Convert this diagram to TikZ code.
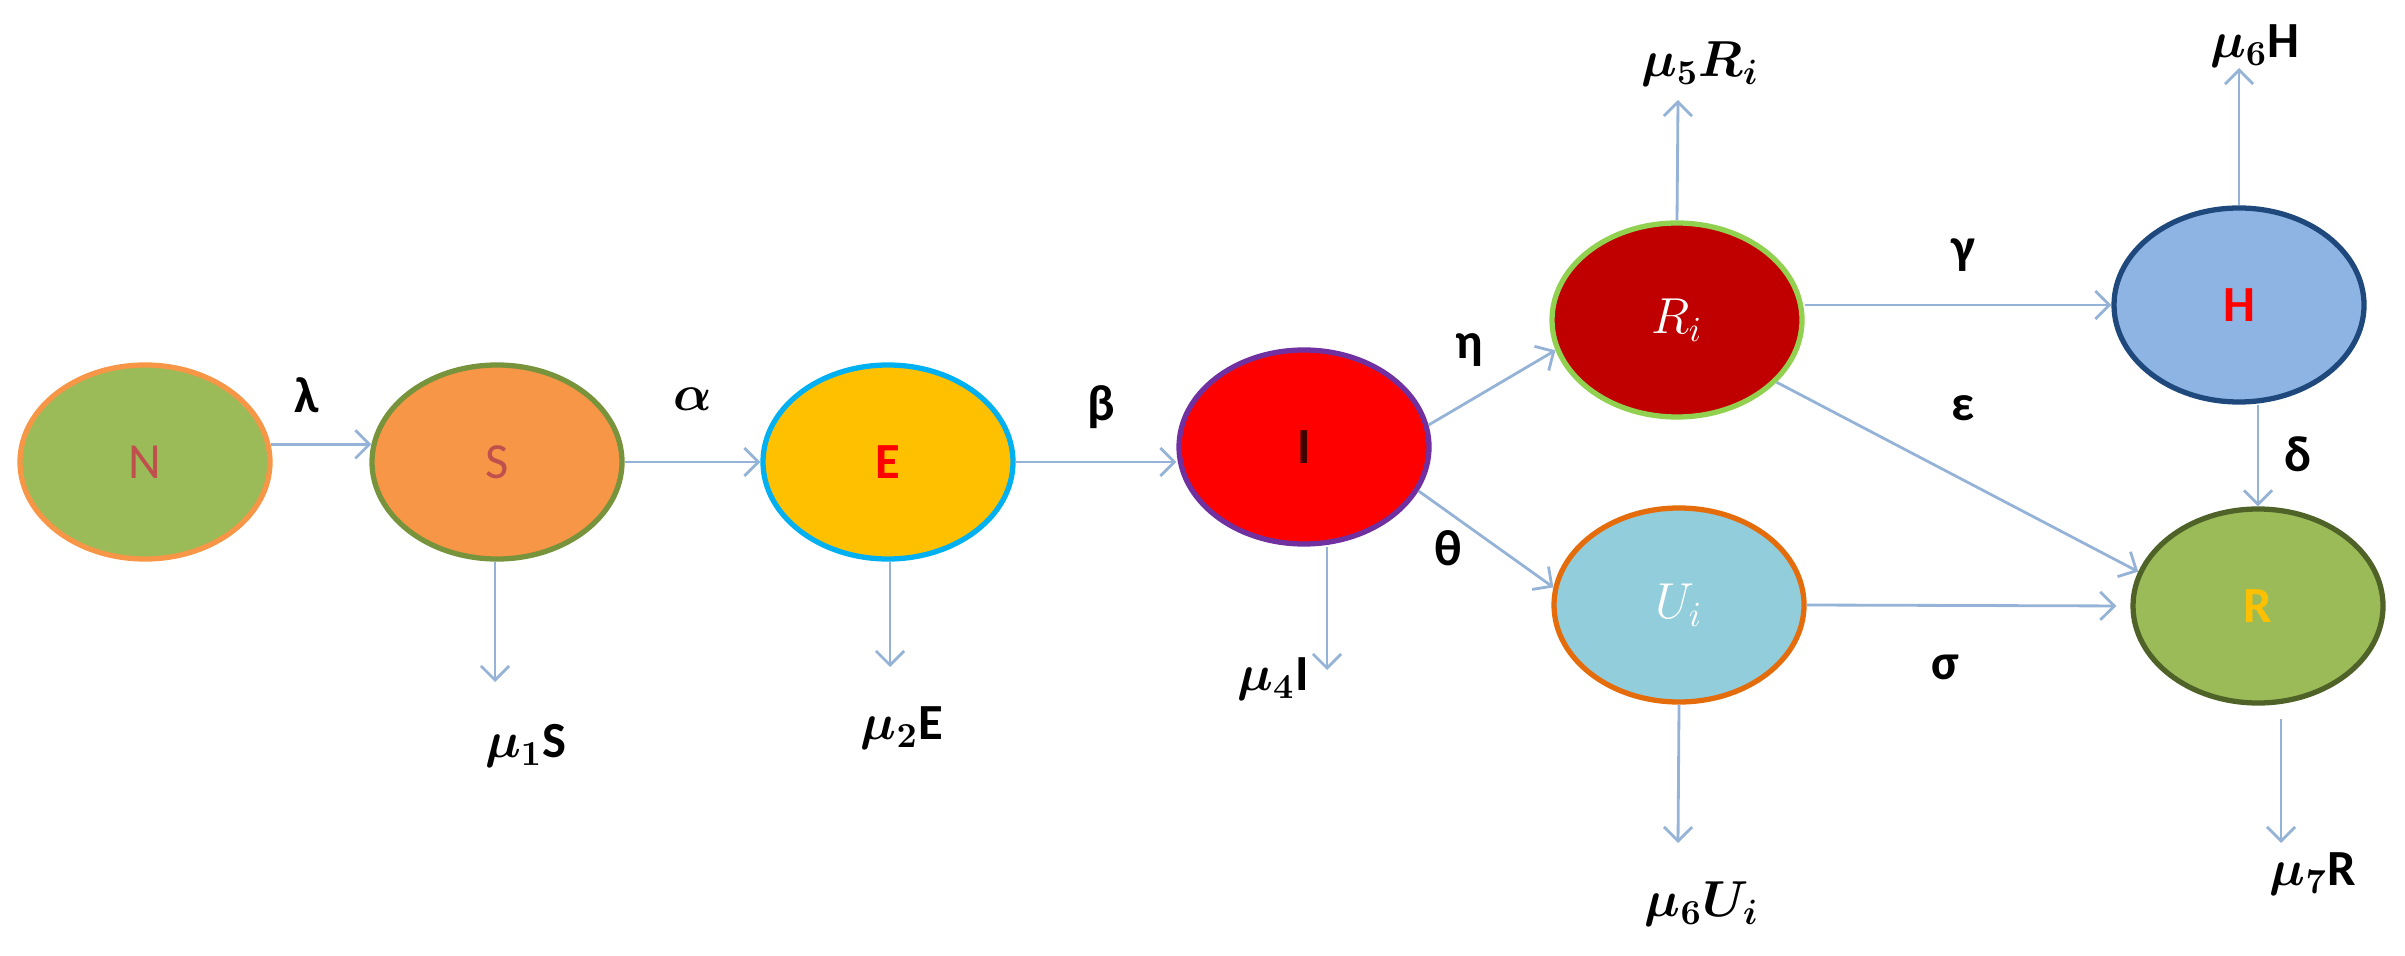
\documentclass[tikz,border=0pt]{standalone}
\usepackage{amsmath,amssymb}
\usepackage{fontspec}
\setmainfont{Carlito}
\usetikzlibrary{shapes.geometric}
\usetikzlibrary{arrows.meta}

\definecolor{flowblue}{HTML}{95B3D7}
\definecolor{ngreen}{HTML}{9BBB59}
\definecolor{sorange}{HTML}{F79646}
\definecolor{solive}{HTML}{77933C}
\definecolor{eyellow}{HTML}{FFC000}
\definecolor{ecyan}{HTML}{00B0F0}
\definecolor{ipurple}{HTML}{7030A0}
\definecolor{ridark}{HTML}{C00000}
\definecolor{rilime}{HTML}{92D050}
\definecolor{hblue}{HTML}{8DB4E2}
\definecolor{hnavy}{HTML}{1F497D}
\definecolor{uicyan}{HTML}{92CDDC}
\definecolor{uiorange}{HTML}{E46C0A}
\definecolor{rdark}{HTML}{4F6228}
\definecolor{nred}{HTML}{C0504D}

\tikzset{
  compartment/.style={ellipse, line width=1.5pt, minimum width=2.5cm,
                      minimum height=1.94cm, inner sep=0pt, font=\Large},
  flow/.style={draw=flowblue, line width=0.8pt,
               -{Straight Barb[length=4pt,width=8pt]}},
  rate/.style={font=\Large\bfseries, inner sep=1pt}
}

\begin{document}
\begin{tikzpicture}
\useasboundingbox (0,0) rectangle (24.05,9.55);

% compartments
\node [compartment, fill=ngreen, draw=sorange, text=nred] (N) at (1.45,4.93) {N};
\node [compartment, fill=sorange, draw=solive, text=nred] (S) at (4.97,4.93) {S};
\node [compartment, fill=eyellow, draw=ecyan, text=red, font=\Large\bfseries] (E) at (8.88,4.93) {E};
\node [compartment, fill=red, draw=ipurple, text=black!75!red, font=\Large\bfseries] (I) at (13.04,5.08) {I};
\node [compartment, fill=ridark, draw=rilime, text=white] (Ri) at (16.77,6.35) {$R_i$};
\node [compartment, fill=hblue, draw=hnavy, text=red, font=\Large\bfseries] (H) at (22.39,6.50) {H};
\node [compartment, fill=uicyan, draw=uiorange, text=white] (Ui) at (16.79,3.50) {$U_i$};
\node [compartment, fill=ngreen, draw=rdark, text=eyellow, font=\Large\bfseries] (R) at (22.58,3.49) {R};

% transfer rates
\node [rate] (lam) at (3.07,5.60) {λ};
\node [rate] (alp) at (6.93,5.56) {$\boldsymbol{\alpha}$};
\node [rate] (bet) at (11.01,5.48) {β};
\node [rate] (eta) at (14.69,6.05) {η};
\node [rate] (the) at (14.48,4.07) {θ};
\node [rate] (gam) at (19.63,7.00) {γ};
\node [rate] (eps) at (19.63,5.47) {ε};
\node [rate] (del) at (22.98,5.01) {δ};
\node [rate] (sig) at (19.45,2.88) {σ};

% removal labels
\node [rate] (muS) at (5.26,2.09) {$\boldsymbol{\mu_1}$S};
\node [rate] (muE) at (9.02,2.27) {$\boldsymbol{\mu_2}$E};
\node [rate] (muI) at (12.73,2.76) {$\boldsymbol{\mu_4}$I};
\node [rate] (muRi) at (17.00,8.91) {$\boldsymbol{\mu_5 R_i}$};
\node [rate] (muH) at (22.55,9.09) {$\boldsymbol{\mu_6}$H};
\node [rate] (muUi) at (17.02,0.51) {$\boldsymbol{\mu_6 U_i}$};
\node [rate] (muR) at (23.13,0.81) {$\boldsymbol{\mu_7}$R};

% free ends of the removal arrows
\coordinate (outS) at (4.95,2.73);
\coordinate (outE) at (8.90,2.88);
\coordinate (outI) at (13.27,2.85);
\coordinate (outRi) at (16.78,8.55);
\coordinate (outH) at (22.39,8.87);
\coordinate (outUi) at (16.78,1.12);
\coordinate (topR) at (22.81,2.36);
\coordinate (outR) at (22.81,1.12);

% flows between compartments
\draw [flow] (N.8) -- (S.172);
\draw [flow] (S.east) -- (E.west);
\draw [flow] (E.east) -- (E.east -| I.west);
\draw [flow] (I.10) -- (Ri.194);
\draw [flow] (I.-21) -- (Ui.172);
\draw [flow] (H.west -| Ri.east) -- (H.west);
\draw [flow] (Ri.-32) -- (R.164);
\draw [flow] (H.south -| R.north) -- (R.north);
\draw [flow, shorten >=4pt] (Ui.east) -- (R.west);

% removals
\draw [flow] (S.south -| outS) -- (outS);
\draw [flow] (E.south -| outE) -- (outE);
\draw [flow] (I.south -| outI) -- (outI);
\draw [flow] (Ri.north) -- (outRi);
\draw [flow] (H.north) -- (outH);
\draw [flow] (Ui.south) -- (outUi);
\draw [flow] (topR) -- (outR);

\end{tikzpicture}
\end{document}
